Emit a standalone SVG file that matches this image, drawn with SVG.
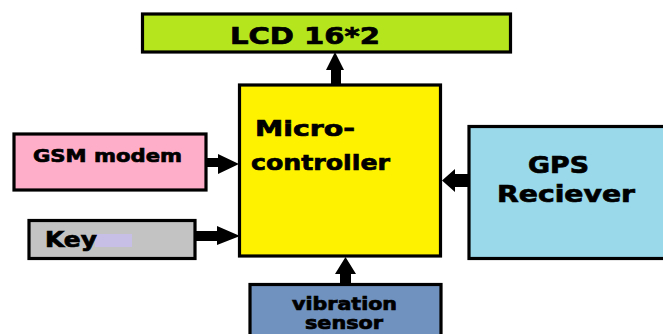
<svg xmlns="http://www.w3.org/2000/svg" width="663" height="334" viewBox="0 0 663 334">
<style>
.box{stroke:#000;stroke-width:3.2}
.t{font-family:"DejaVu Sans","Verdana",sans-serif;font-weight:bold;fill:#000;stroke:#000;stroke-width:0.7}
.arr{fill:#000}
</style>
<rect width="663" height="334" fill="#fff"/>
<g id="connectors">
<polygon class="arr" points="331,86 331,70 326,70 335,52 344,70 341,70 341,86"/>
<polygon class="arr" points="206,158 218,158 218,154 239,164 218,174 218,167 206,167"/>
<polygon class="arr" points="195,231 217,231 217,226 240,236 217,245 217,241 195,241"/>
<polygon class="arr" points="469,174 455,174 455,169 442,180.5 455,192 455,187 469,187"/>
<polygon class="arr" points="340,284 340,274 335,274 345.5,257 356,274 351,274 351,284"/>
</g>
<g id="lcd">
<rect class="box" x="142.5" y="14" width="368" height="38" fill="#b5e61d"/>
<text class="t" x="230" y="44" font-size="23" textLength="150" lengthAdjust="spacingAndGlyphs">LCD 16*2</text>
</g>
<g id="microcontroller">
<rect class="box" x="239.5" y="85" width="201" height="171" fill="#fff200"/>
<text class="t" x="255" y="136" font-size="22" textLength="100" lengthAdjust="spacingAndGlyphs">Micro-</text>
<text class="t" x="251" y="170" font-size="22" textLength="139" lengthAdjust="spacingAndGlyphs">controller</text>
</g>
<g id="gsm">
<rect class="box" x="14" y="134" width="192" height="56" fill="#ffaec9"/>
<text class="t" x="33" y="162" font-size="18" textLength="149" lengthAdjust="spacingAndGlyphs">GSM modem</text>
</g>
<g id="key">
<rect class="box" x="29" y="220.5" width="166" height="38" fill="#c3c3c3"/>
<rect x="95" y="234" width="37" height="13" fill="#c8bfe7"/>
<text class="t" x="45" y="247" font-size="21" textLength="52" lengthAdjust="spacingAndGlyphs">Key</text>
</g>
<g id="gps">
<rect class="box" x="469" y="126.5" width="200" height="132" fill="#99d9ea"/>
<text class="t" x="528" y="173" font-size="23" textLength="61" lengthAdjust="spacingAndGlyphs">GPS</text>
<text class="t" x="497" y="202" font-size="23" textLength="138" lengthAdjust="spacingAndGlyphs">Reciever</text>
</g>
<g id="vibration">
<rect class="box" x="250" y="284.5" width="191" height="60" fill="#7092be"/>
<text class="t" x="292" y="310" font-size="17.5" textLength="105" lengthAdjust="spacingAndGlyphs">vibration</text>
<text class="t" x="305" y="329" font-size="17.5" textLength="78" lengthAdjust="spacingAndGlyphs">sensor</text>
</g>
</svg>
